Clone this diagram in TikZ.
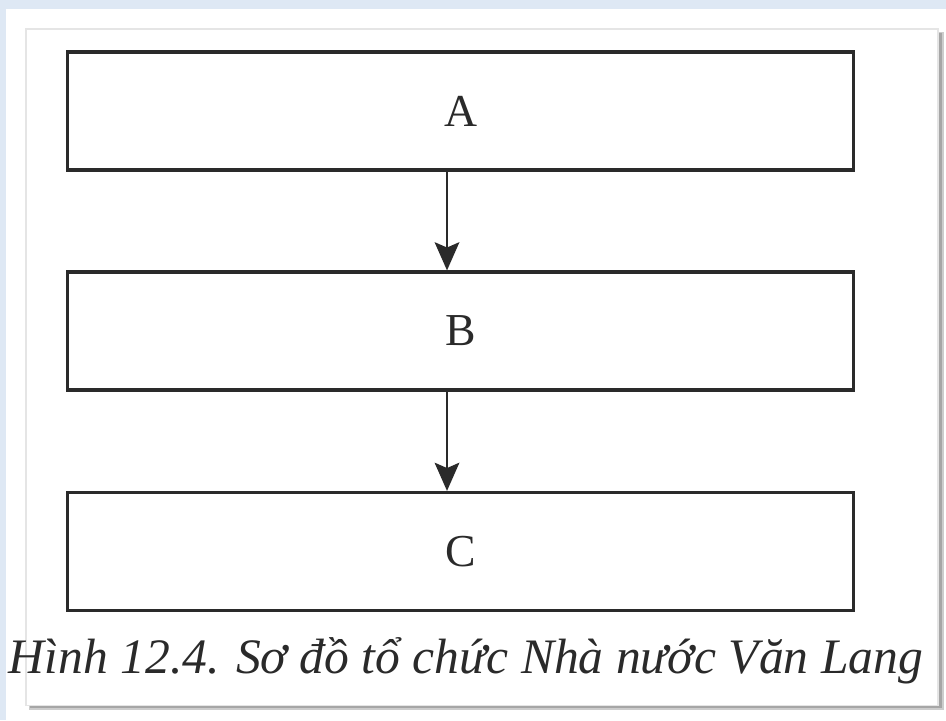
\documentclass[tikz,border=0pt]{standalone}
\usepackage{fontspec}
\setmainfont{Liberation Serif}
\usetikzlibrary{arrows.meta}

\definecolor{bgblue}{HTML}{DEE8F4}
\definecolor{ink}{HTML}{2A2A2A}

\tikzset{
  levelbox/.style={draw=ink, line width=0.9pt, minimum width=7.85cm, minimum height=1.18cm,
    inner sep=0pt, text=ink, font=\fontsize{13}{15}\selectfont},
  down/.style={draw=ink, line width=0.7pt, -{Stealth[length=8pt,width=7pt,inset=1.5pt]}},
}

\begin{document}
\begin{tikzpicture}[x=0.01cm, y=-0.01cm]
  \useasboundingbox (0,0) rectangle (946,720);
  % page
  \fill[bgblue] (0,0) rectangle (946,720);
  \fill[white] (6,9) rectangle (946,720);
  \fill[gray!40] (29,32) rectangle (944,710);
  \fill[gray!70] (30,33) rectangle (942,708);
  \fill[white, draw=gray!20, line width=0.3pt] (26,29) rectangle (938,705);
  % levels
  \node[levelbox] (A) at (460.5,111) {A};
  \node[levelbox] (B) at (460.5,331) {B};
  \node[levelbox] (C) at (460.5,551.5) {C};
  \coordinate (ax) at (447,0);
  \draw[down] (A.south -| ax) -- (B.north -| ax);
  \draw[down] (B.south -| ax) -- (C.north -| ax);
  % caption
  \node[anchor=base, text=ink, font=\fontsize{14.1}{17}\selectfont\itshape] (cap) at (466,673)
    {Hình 12.4. Sơ đồ tổ chức Nhà nước Văn Lang};
\end{tikzpicture}
\end{document}
